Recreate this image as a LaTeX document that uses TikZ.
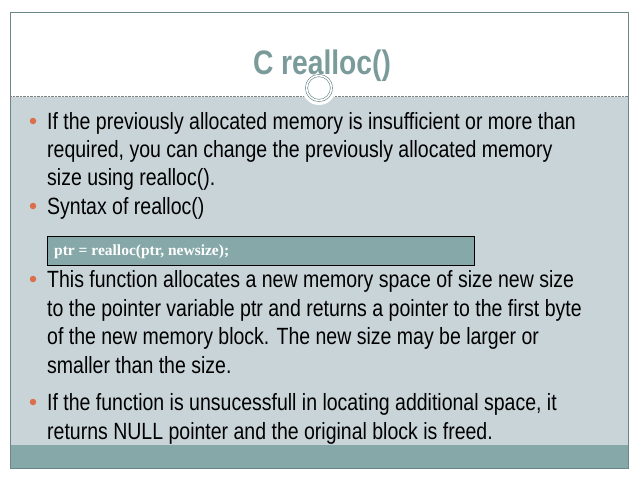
\documentclass[tikz,border=0pt]{standalone}
\usepackage{fontspec}
\setmainfont{Liberation Sans}[FakeStretch=0.83]
\newfontfamily\codefont{Liberation Serif}
\definecolor{teal1}{HTML}{86A8A8}
\definecolor{body}{HTML}{C9D4D9}
\definecolor{ttl}{HTML}{7B9B9B}
\definecolor{dot}{HTML}{D9704A}
\tikzset{txt/.style={anchor=base west,inner sep=0pt,font=\fontsize{23.5}{23.5}\selectfont},
 bul/.style={circle,fill=dot,inner sep=0pt,minimum size=6.5pt}}
\begin{document}
\begin{tikzpicture}[x=1pt,y=-1pt]
\useasboundingbox (0,0) rectangle (638,479);
\fill[white] (0,0) rectangle (638,479);
\fill[body] (10,97) rectangle (628,445);
\fill[teal1] (10,445) rectangle (628,468);
\draw[teal1!80!black,line width=0.6pt] (10,12) rectangle (628,468);
\draw[gray,densely dotted,line width=0.4pt] (10,96) -- (628,96);
\fill[white] (319,88) circle (17);
\node[circle,draw=teal1!80!black,double=white,double distance=1.6pt,minimum size=25pt,inner sep=0pt,line width=0.6pt] (c) at (319,88) {};
\node[anchor=base,font=\bfseries\fontsize{34}{34}\selectfont,text=ttl] (t) at (322,74) {C realloc()};
\node[bul] (b1) at (33,121) {};
\node[txt] (l1) at (47,129) {If the previously allocated memory is insufficient or more than};
\node[txt] (l2) at (47,157) {required, you can change the previously allocated memory};
\node[txt] (l3) at (47,185) {size using realloc().};
\node[bul] (b2) at (33,206) {};
\node[txt] (l4) at (47,214) {Syntax of realloc()};
\node[draw=black,fill=teal1,minimum width=427pt,minimum height=29pt,anchor=north west,inner sep=0pt] (code) at (47,236) {};
\node[anchor=base west,inner sep=0pt,text=white,font=\codefont\bfseries\fontsize{15.5}{15.5}\selectfont] (ct) at (54,255) {ptr = realloc(ptr, newsize);};
\node[bul] (b3) at (33,279) {};
\node[txt] (l5) at (47,287) {This function allocates a new memory space of size new size};
\node[txt] (l6) at (47,316) {to the pointer variable ptr and returns a pointer to the first byte};
\node[txt] (l7) at (47,344) {of the new memory block. The new size may be larger or};
\node[txt] (l8) at (47,373) {smaller than the size.};
\node[bul] (b4) at (33,402) {};
\node[txt] (l9) at (47,410) {If the function is unsucessfull in locating additional space, it};
\node[txt] (l10) at (47,439) {returns NULL pointer and the original block is freed.};
\end{tikzpicture}
\end{document}
